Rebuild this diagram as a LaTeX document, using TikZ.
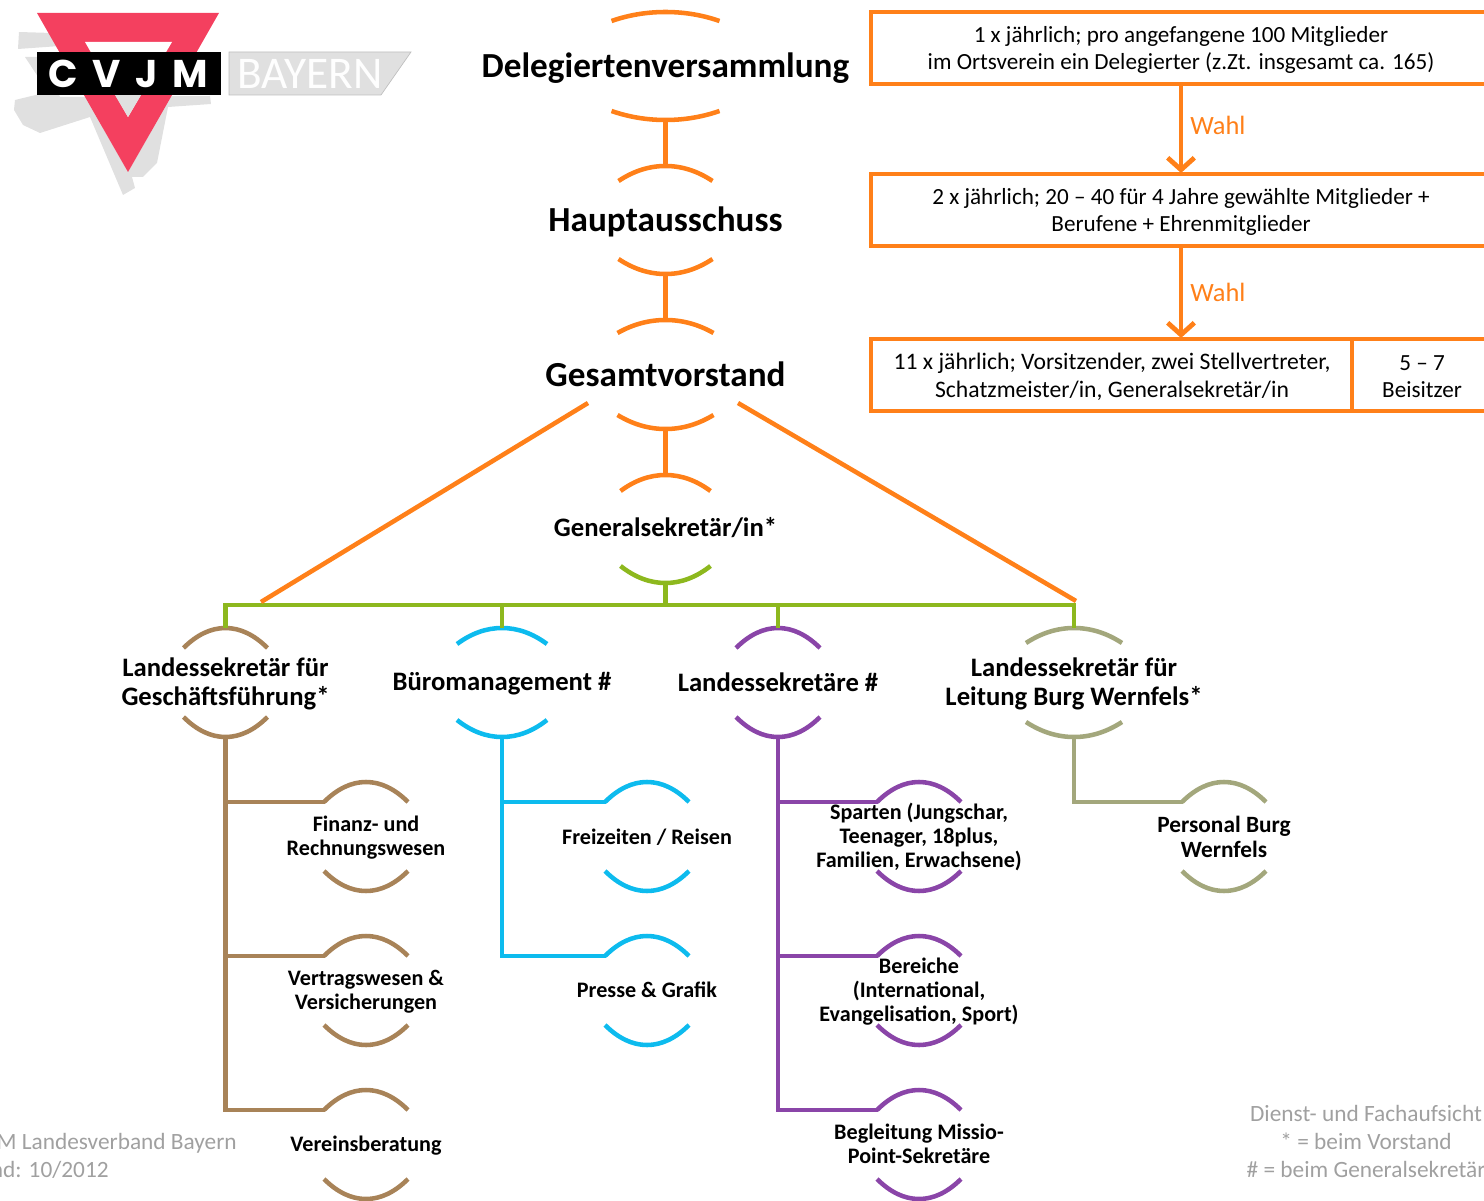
\documentclass[tikz,border=0pt]{standalone}
\usepackage{fontspec}
\setmainfont{Carlito}
\newfontfamily\logofont{Poppins}
\usetikzlibrary{arrows.meta}
\definecolor{cvorange}{HTML}{FF8019}
\definecolor{cvgreen}{HTML}{8DB81E}
\definecolor{cvbrown}{HTML}{A88358}
\definecolor{cvblue}{HTML}{0DBBEE}
\definecolor{cvpurple}{HTML}{8A45A8}
\definecolor{cvolive}{HTML}{A3A77C}
\definecolor{cvred}{HTML}{F4405F}
\definecolor{cvgrey}{HTML}{E0E0E0}
\definecolor{cvnote}{HTML}{A0A0A0}
\newcommand{\fs}[2]{\fontsize{#1pt}{#2pt}\selectfont}
\tikzset{
  x=0.75pt,y=-0.75pt,
  conn/.style={line width=3.4pt,line cap=butt,line join=miter},
  arcline/.style={line width=3.4pt,line cap=butt},
  lab/.style={align=center,inner sep=0pt,text=black,font=\bfseries},
  big/.style={lab,font=\bfseries\fs{26.4}{30}},
  mid/.style={lab,font=\bfseries\fs{20}{21.75}},
  small/.style={lab,font=\bfseries\fs{16.6}{18}},
  smallwide/.style={lab,font=\bfseries\fs{17.5}{18.75}},
  infobox/.style={draw=cvorange,line width=3.5pt,inner sep=0pt,align=center},
  boxtext/.style={inner sep=0pt,align=center,font=\fs{17.35}{20.4}},
  boxtextwide/.style={inner sep=0pt,align=center,font=\fs{17.75}{20.8}},
  wahl/.style={inner sep=0pt,text=cvorange,anchor=west,font=\fs{19.8}{21}},
  note/.style={inner sep=0pt,text=cvnote,font=\fs{17.5}{21},align=center},
  wahlarrow/.style={draw=cvorange,line width=3.6pt,-{Straight Barb[length=9pt,width=20pt,line width=3.6pt]}},
}
% single arc: cx, half-width, apex y, end y, colour
\newcommand{\onearc}[5]{%
  \draw[arcline,draw=#5] (#1-#2,#4) .. controls (#1-#2*0.68,#3+#4*0.333-#3*0.333) and (#1-#2*0.347,#3) .. (#1,#3)
     .. controls (#1+#2*0.347,#3) and (#1+#2*0.68,#3+#4*0.333-#3*0.333) .. (#1+#2,#4);
}
% name, cx, half-width, top apex y, top end y, bottom end y, bottom apex y, colour
\newcommand{\arcs}[8]{%
  \onearc{#2}{#3}{#4}{#5}{#8}
  \onearc{#2}{#3}{#7}{#6}{#8}
  \coordinate (#1-t) at (#2,#4);
  \coordinate (#1-b) at (#2,#7);
}
\begin{document}
\begin{tikzpicture}
\useasboundingbox (0,0) rectangle (1484,1201);
% logo
\fill[cvgrey] (19,32) -- (52,33) -- (60,46) -- (18,49) -- cycle;
\fill[cvgrey] (25,57) -- (45,57) -- (60,97) -- (210,96) -- (211,104) -- (168,107) -- (157,163) -- (143,177) -- (132,177) -- (135,188) -- (123,195) -- (90,117) -- (40,133) -- (23,125) -- (14,110) -- (15,100) -- (48,92) -- cycle;
\fill[cvred] (37,13) -- (219,13) -- (128,172) -- cycle;
\fill[white] (85,42) -- (172,42) -- (128,117) -- cycle;
\fill[cvgrey] (115,95) -- (141,95) -- (128,117) -- cycle;
\fill[black] (37,52) rectangle (221,95);
\node[inner sep=0pt,text=white,font=\logofont\bfseries\fs{29}{30}] (cvjm) at (128,74) {C\hspace{11pt}V\hspace{11pt}J\hspace{11pt}M};
\fill[cvgrey,draw=cvgrey!85!black,line width=0.5pt] (229,52) -- (411,52) -- (381,95) -- (229,95) -- cycle;
\node[inner sep=0pt,text=white!96!cvgrey,font=\fs{34}{36}] (bayern) at (310,74) {BAYERN};

% main nodes
\node[big] (dv) at (665.5,68) {Delegiertenversammlung};
\arcs{dv}{665.5}{54}{12}{21}{111}{120}{cvorange}
\node[big] (ha) at (665.5,222) {Hauptausschuss};
\arcs{ha}{665.5}{47}{166}{181}{259}{274}{cvorange}
\node[big] (gv) at (665.5,374) {Gesamtvorstand};
\arcs{gv}{665.5}{48}{320}{333}{415}{429}{cvorange}
\node[mid] (gs) at (665.5,528) {Generalsekretär/in*};
\onearc{665.5}{45}{475}{491}{cvorange}
\onearc{665.5}{45}{583}{566}{cvgreen}
\coordinate (gs-t) at (665.5,475);
\coordinate (gs-b) at (665.5,583);
\draw[conn,draw=cvorange] (dv-b) -- (ha-t);
\draw[conn,draw=cvorange] (ha-b) -- (gv-t);
\draw[conn,draw=cvorange] (gv-b) -- (gs-t);

% second level
\node[mid] (gf) at (225.5,683.5) {Landessekretär für\\Geschäftsführung*};
\arcs{gf}{225.5}{42}{628}{648}{717}{737}{cvbrown}
\node[mid] (bm) at (502,684) {Büromanagement \#};
\arcs{bm}{502}{45}{628}{644}{720}{737}{cvblue}
\node[mid] (ls) at (778,682) {Landessekretäre \#};
\arcs{ls}{778}{42}{628}{648}{717}{737}{cvpurple}
\node[mid] (bw) at (1074,683.5) {Landessekretär für\\Leitung Burg Wernfels*};
\arcs{bw}{1074}{48}{628}{643}{722}{737}{cvolive}

% green bus
\coordinate (busL) at (225.5,605);
\coordinate (busB) at (502,605);
\coordinate (busC) at (665.5,605);
\coordinate (busS) at (778,605);
\coordinate (busR) at (1074,605);
\draw[conn,draw=cvgreen] (gf-t) -- (busL) -- (busR) -- (bw-t);
\draw[conn,draw=cvgreen] (gs-b) -- (busC);
\draw[conn,draw=cvgreen] (bm-t) -- (busB);
\draw[conn,draw=cvgreen] (ls-t) -- (busS);

% orange diagonals
\coordinate (dl1) at (588,403);
\coordinate (dl2) at (261,602);
\coordinate (dr1) at (738,403);
\coordinate (dr2) at (1076,601);
\draw[conn,draw=cvorange] (dl1) -- (dl2);
\draw[conn,draw=cvorange] (dr1) -- (dr2);

% third level
\node[small] (fr) at (366,838) {Finanz- und\\Rechnungswesen};
\arcs{fr}{366}{42}{782}{802}{871}{891}{cvbrown}
\node[small] (vv) at (366,992) {Vertragswesen \&\\Versicherungen};
\arcs{vv}{366}{42}{936}{956}{1025}{1045}{cvbrown}
\node[small] (vb) at (366,1146) {Vereinsberatung};
\arcs{vb}{366}{42}{1090}{1110}{1179}{1199}{cvbrown}
\node[small] (fz) at (647,837) {Freizeiten / Reisen};
\arcs{fz}{647}{42}{782}{802}{871}{891}{cvblue}
\node[small] (pg) at (647,990) {Presse \& Grafik};
\arcs{pg}{647}{42}{936}{956}{1025}{1045}{cvblue}
\arcs{sp}{919}{42}{782}{802}{871}{891}{cvpurple}
\node[small] (spt) at (919,837) {Sparten (Jungschar,\\Teenager, 18plus,\\Familien, Erwachsene)};
\arcs{be}{919}{42}{936}{956}{1025}{1045}{cvpurple}
\node[small] (bet) at (919,992) {Bereiche\\(International,\\Evangelisation, Sport)};
\node[small] (mp) at (919,1144) {Begleitung Missio-\\Point-Sekretäre};
\arcs{mp}{919}{42}{1090}{1110}{1179}{1199}{cvpurple}
\node[smallwide] (pb) at (1224,836.5) {Personal Burg\\Wernfels};
\arcs{pb}{1224}{42}{782}{802}{871}{891}{cvolive}

% tree branches
\coordinate (b1) at (225.5,802); \coordinate (b2) at (225.5,956); \coordinate (b3) at (225.5,1110);
\coordinate (e1) at (325,802); \coordinate (e2) at (325,956); \coordinate (e3) at (325,1110);
\draw[conn,draw=cvbrown] (gf-b) -- (b3) -- (e3);
\draw[conn,draw=cvbrown] (b1) -- (e1);
\draw[conn,draw=cvbrown] (b2) -- (e2);
\coordinate (c1) at (502,802); \coordinate (c2) at (502,956);
\coordinate (f1) at (606,802); \coordinate (f2) at (606,956);
\draw[conn,draw=cvblue] (bm-b) -- (c2) -- (f2);
\draw[conn,draw=cvblue] (c1) -- (f1);
\coordinate (d1) at (778,802); \coordinate (d2) at (778,956); \coordinate (d3) at (778,1110);
\coordinate (g1) at (878,802); \coordinate (g2) at (878,956); \coordinate (g3) at (878,1110);
\draw[conn,draw=cvpurple] (ls-b) -- (d3) -- (g3);
\draw[conn,draw=cvpurple] (d1) -- (g1);
\draw[conn,draw=cvpurple] (d2) -- (g2);
\coordinate (h1) at (1074,802); \coordinate (h2) at (1183,802);
\draw[conn,draw=cvolive] (bw-b) -- (h1) -- (h2);

% info boxes
\node[infobox,minimum width=480pt,minimum height=54pt] (i1) at (1191,48) {};
\node[infobox,minimum width=480pt,minimum height=54pt] (i2) at (1191,210) {};
\node[infobox,minimum width=360.75pt,minimum height=54pt] (i3) at (1111.5,375) {};
\node[infobox,minimum width=105pt,minimum height=54pt] (i4) at (1422,375) {};
\node[boxtext] (i1t) at (1181,50) {1 x jährlich; pro angefangene 100 Mitglieder\\im Ortsverein ein Delegierter (z.Zt. insgesamt ca. 165)};
\node[boxtext] (i2t) at (1181,212) {2 x jährlich; 20 – 40 für 4 Jahre gewählte Mitglieder +\\Berufene + Ehrenmitglieder};
\node[boxtextwide] (i3t) at (1112,377) {11 x jährlich; Vorsitzender, zwei Stellvertreter,\\Schatzmeister/in, Generalsekretär/in};
\node[boxtext] (i4t) at (1422,377) {5 – 7\\Beisitzer};
\coordinate (a1s) at (1181,85); \coordinate (a1e) at (1181,173);
\coordinate (a2s) at (1181,248); \coordinate (a2e) at (1181,338);
\draw[wahlarrow] (a1s) -- (a1e);
\draw[wahlarrow] (a2s) -- (a2e);
\node[wahl] (w1) at (1190,125) {Wahl};
\node[wahl] (w2) at (1190,292) {Wahl};

% notes
\node[note,anchor=east,align=right] (n1) at (237,1143) {CVJM Landesverband Bayern};
\node[note,anchor=east] (n2) at (109,1170) {Stand: 10/2012};
\node[note] (n3) at (1366,1141) {Dienst- und Fachaufsicht\\* = beim Vorstand\\\# = beim Generalsekretär};
\end{tikzpicture}
\end{document}
